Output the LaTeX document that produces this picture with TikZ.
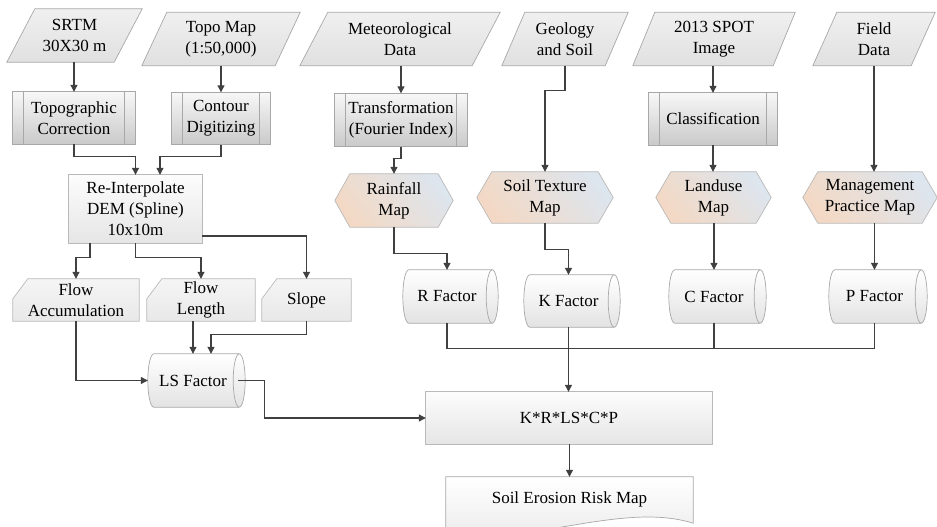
\documentclass[tikz,border=0pt]{standalone}
\usepackage{fontspec}
\setmainfont{Liberation Serif}
\usetikzlibrary{backgrounds,calc,arrows.meta}
\definecolor{lineC}{HTML}{404040}
\definecolor{borderC}{HTML}{A8A8A8}
\definecolor{peach}{HTML}{F3D9C5}
\definecolor{bluegray}{HTML}{DDE5EE}
\tikzset{
  box/.style={inner sep=0pt, minimum height=53pt, align=center, font=\fontsize{17}{21}\selectfont},
  arr/.style={draw=lineC, line width=1.1pt, -{Triangle[length=7pt,width=7pt]}},
  ln/.style={draw=lineC, line width=1.1pt},
  parfill/.style={top color=black!6, bottom color=black!12, draw=borderC, line width=0.7pt},
  procfill/.style={top color=black!3, bottom color=black!21, draw=borderC, line width=0.7pt},
  rectfill/.style={top color=black!1, bottom color=black!10, draw=borderC!80, line width=0.7pt},
  cardfill/.style={top color=black!4, bottom color=black!9, draw=borderC!80, line width=0.7pt},
  cylfill/.style={top color=white, bottom color=black!11, draw=borderC, line width=0.7pt},
  hexfill/.style={top color=bluegray, bottom color=peach, shading angle=-50, draw=borderC!80, line width=0.7pt},
  docfill/.style={top color=white, bottom color=black!9, draw=borderC, line width=0.7pt},
  bordr/.style={draw=borderC, line width=0.7pt}
}
\newcommand\paralshape[2]{%
  \path[parfill] let \p1=(#1.north west), \p2=(#1.south east) in
    (\x1,\y2) -- ({\x1+#2pt},\y1) -- (\x2,\y1) -- ({\x2-#2pt},\y2) -- cycle;}
\newcommand\procshape[1]{%
  \path[procfill] (#1.north west) rectangle (#1.south east);
  \draw[bordr] ([xshift=11pt]#1.north west) -- ([xshift=11pt]#1.south west)
               ([xshift=-11pt]#1.north east) -- ([xshift=-11pt]#1.south east);}
\newcommand\hexshape[1]{%
  \path[hexfill] let \p1=(#1.north west), \p2=(#1.south east), \p3=(#1.west), \p4=(#1.east) in
    (\p3) -- ({\x1+15pt},\y1) -- ({\x2-15pt},\y1) -- (\p4) -- ({\x2-15pt},\y2) -- ({\x1+15pt},\y2) -- cycle;}
\newcommand\cardshape[1]{%
  \path[cardfill] let \p1=(#1.north west), \p2=(#1.south east) in
    (\x1,{\y1-20pt}) -- ({\x1+15pt},\y1) -- (\x2,\y1) -- (\x2,\y2) -- (\x1,\y2) -- cycle;}
\newcommand\cylshape[1]{%
  \path[cylfill] let \p1=(#1.north west), \p2=(#1.south east), \n1={(\y1-\y2)/2} in
    ({\x1+6pt},\y1) -- ({\x2+1pt},\y1) arc[start angle=90, end angle=-90, x radius=6pt, y radius=\n1]
    -- ({\x1+6pt},\y2) arc[start angle=270, end angle=90, x radius=6pt, y radius=\n1] -- cycle;
  \path[bordr] let \p1=(#1.north west), \p2=(#1.south east), \n1={(\y1-\y2)/2} in
    ({\x2+1pt},\y1) arc[start angle=90, end angle=270, x radius=6pt, y radius=\n1];}
\begin{document}
\begin{tikzpicture}[x=1pt,y=1pt]
\useasboundingbox (0,0) rectangle (937,-527);
% inputs
\node[box, minimum width=135pt] (srtm) at (74.5,-35.5) {SRTM\\30X30 m};
\node[box, minimum width=158pt] (topo) at (221,-39) {Topo Map\\(1:50,000)};
\node[box, minimum width=200pt] (met) at (400,-39) {Meteorological\\Data};
\node[box, minimum width=126pt] (geo) at (565,-39) {Geology\\and Soil};
\node[box, minimum width=162pt] (spot) at (714,-39) {2013 SPOT\\Image};
\node[box, minimum width=122pt] (field) at (874,-39) {Field\\Data};
% processes
\node[box, minimum width=122pt, minimum height=52pt] (topc) at (74,-118) {Topographic\\Correction};
\node[box, minimum width=98pt, minimum height=52pt] (cont) at (221,-118.5) {Contour\\Digitizing};
\node[box, minimum width=132pt] (trans) at (401,-120) {Transformation\\(Fourier Index)};
\node[box, minimum width=128pt, minimum height=52pt] (class) at (713,-119) {Classification};
\node[box, minimum width=133pt, minimum height=68pt] (dem) at (135.5,-209) {Re-Interpolate\\DEM (Spline)\\10x10m};
% maps
\node[box, minimum width=118pt] (rain) at (394,-200.5) {Rainfall\\Map};
\node[box, minimum width=136pt, minimum height=51pt] (soilt) at (545,-197.5) {Soil Texture\\Map};
\node[box, minimum width=115pt, minimum height=51pt] (land) at (713.5,-197.5) {Landuse\\Map};
\node[box, minimum width=134pt, minimum height=51pt] (mgmt) at (870,-197.5) {Management\\Practice Map};
% cards
\node[box, minimum width=126pt, minimum height=42pt] (facc) at (76,-300) {Flow\\Accumulation};
\node[box, minimum width=108pt, minimum height=42pt] (flen) at (201,-300) {Flow\\Length};
\node[box, minimum width=89pt, minimum height=42pt] (slope) at (306.5,-300) {Slope};
% factors
\node[box, minimum width=88pt] (rf) at (447,-296.5) {R Factor};
\node[box, minimum width=89pt, minimum height=52pt] (kf) at (568.5,-301) {K Factor};
\node[box, minimum width=90pt] (cf) at (714,-296.5) {C Factor};
\node[box, minimum width=91pt] (pf) at (874.5,-296.5) {P Factor};
\node[box, minimum width=90pt] (ls) at (193,-380.5) {LS Factor};
\node[box, minimum width=286pt, minimum height=52pt] (formula) at (569,-418) {K*R*LS*C*P};
\node[box, minimum width=247pt, minimum height=44pt] (doc) at (569.5,-499) {Soil Erosion Risk Map};

\begin{pgfonlayer}{background}
  \fill[white] (0,0) rectangle (937,-527);
  \paralshape{srtm}{28}
  \paralshape{topo}{25}
  \paralshape{met}{28}
  \paralshape{geo}{23}
  \paralshape{spot}{22}
  \paralshape{field}{24}
  \procshape{topc}
  \procshape{cont}
  \procshape{trans}
  \procshape{class}
  \path[rectfill] (dem.north west) rectangle (dem.south east);
  \path[rectfill] (formula.north west) rectangle (formula.south east);
  \hexshape{rain}
  \hexshape{soilt}
  \hexshape{land}
  \hexshape{mgmt}
  \cardshape{facc}
  \cardshape{flen}
  \cardshape{slope}
  \cylshape{rf}
  \cylshape{kf}
  \cylshape{cf}
  \cylshape{pf}
  \cylshape{ls}
  \path[docfill] let \p1=(doc.north west), \p2=(doc.south east) in
    (\x1,\y1) -- (\x2,\y1) -- (\x2,{\y2-2pt})
    .. controls ({\x2-73pt},{\y2+21pt}) and ({\x1+74pt},{\y2-29pt}) .. (\x1,{\y2-10pt}) -- cycle;
\end{pgfonlayer}

% connectors
\draw[arr] (topc.north |- srtm.south) -- (topc.north);
\draw[arr] (cont.north |- topo.south) -- (cont.north);
\draw[arr] (trans.north |- met.south) -- (trans.north);
\draw[arr] (class.north |- spot.south) -- (class.north);
\draw[arr] (geo.south) -- ++(0,-25) -| (soilt.north);
\draw[arr] (field.south) -- (mgmt.north -| field.south);
\draw[arr] (topc.south) -- ++(0,-12.5) -| (dem.north);
\draw[arr] (cont.south) -- ++(0,-12) -| ([xshift=24.5pt]dem.north);
\draw[arr] (trans.south) -- ++(0,-11.5) -| (rain.north);
\draw[arr] (class.south) -- (land.north -| class.south);
\draw[arr] ([xshift=-45.5pt]dem.south) -- ++(0,-14) -| (facc.north);
\draw[arr] (dem.south) -- ++(0,-14) -| (flen.north);
\draw[arr] ([yshift=-27pt]dem.east) -| (slope.north);
\draw[arr] (facc.south) |- (ls.west);
\draw[arr] (flen.south -| ls.north) -- (ls.north);
\draw[arr] (slope.south) -- ++(0,-13) -| ([xshift=18pt]ls.north);
\draw[arr] (rain.south) -- ++(0,-26) -| (rf.north);
\draw[arr] (soilt.south) -- ++(0,-26) -| (kf.north);
\draw[arr] (cf.north |- land.south) -- (cf.north);
\draw[arr] (pf.north |- mgmt.south) -- (pf.north);
\draw[ln] (rf.south) -- ++(0,-25) -| (pf.south);
\draw[ln] (cf.south) -- ++(0,-25);
\draw[arr] (kf.south) -- (formula.north -| kf.south);
\draw[arr] (ls.east) -- ++(26,0) |- (formula.west);
\draw[arr] (formula.south -| doc.north) -- (doc.north);
\end{tikzpicture}
\end{document}
